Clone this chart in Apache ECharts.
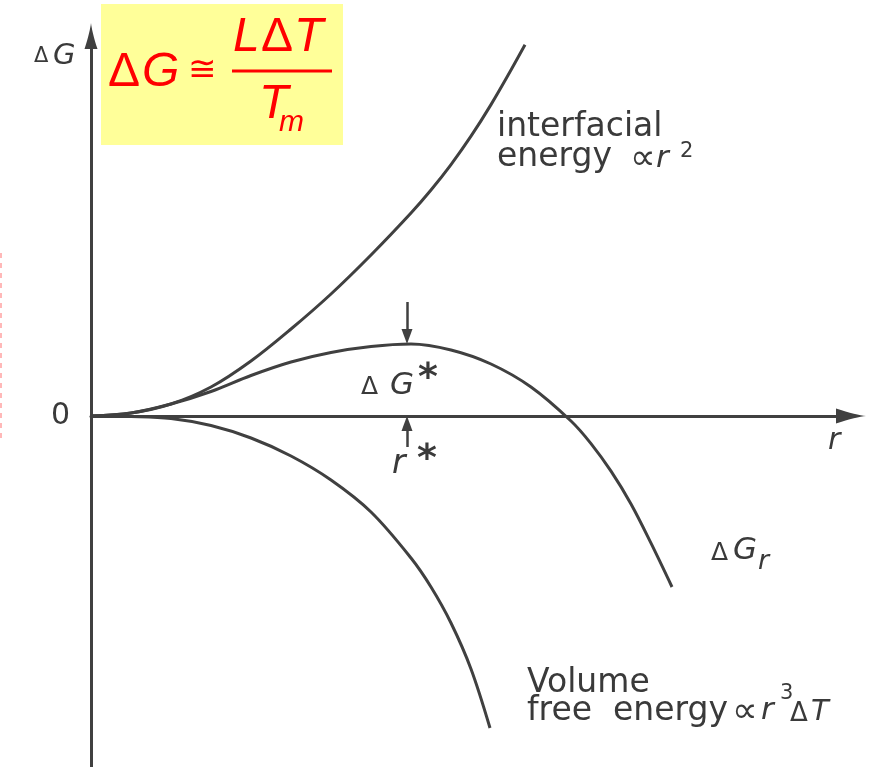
<!DOCTYPE html>
<html>
<head>
<meta charset="utf-8">
<script src="https://cdn.jsdelivr.net/npm/echarts@6/dist/echarts.min.js"></script>
<style>
  html, body { margin: 0; padding: 0; background: #ffffff; }
  #chart { width: 870px; height: 767px; }
</style>
</head>
<body>
<div id="chart"></div>
<script>
// Free energy of a spherical nucleus versus its radius r (arbitrary units)
const interfacialR = [0, 1, 2, 3, 4, 5, 6, 7, 8, 8.5, 9, 9.5, 10, 10.5, 10.85];
const interfacialG = [0, 0.075, 0.3, 0.725, 1.375, 2.175, 3.05, 4.025, 5.075, 5.65, 6.285, 6.995, 7.785, 8.65, 9.28];

const totalR = [0, 1, 2, 3, 4, 5, 6, 7, 8, 9, 10, 11, 12, 12.5, 13, 13.5, 14, 14.525];
const totalG = [0, 0.075, 0.3, 0.6125, 1.0125, 1.35, 1.5875, 1.7375, 1.8, 1.65, 1.3, 0.725, -0.125, -0.69, -1.38, -2.2, -3.18, -4.275];

const volumeR = [0, 1, 2, 3, 4, 5, 6, 7, 8, 8.5, 9, 9.5, 9.975];
const volumeG = [0, -0.0125, -0.0625, -0.2375, -0.55, -1.0, -1.6, -2.4, -3.55, -4.275, -5.175, -6.325, -7.8];

// Critical radius r* and barrier height ΔG*
const rStar = 7.9;
const gStar = 1.8;

const zip = (xs, ys) => xs.map((x, i) => [x, ys[i]]);

const INK = '#404040';
const LABEL_FONT = 'DejaVu Sans';
const MATH_FONT = 'Liberation Sans';
const arrowHead = 'path://M10,0 C11,8 14,22 20,40 L0,40 C6,22 9,8 10,0 Z';
const arrowHalf = 0.19; // half of an annotation arrow head, in ΔG units

function txt(x, y, text, size, extra) {
  const style = Object.assign({
    text: text,
    fontSize: size,
    fontFamily: LABEL_FONT,
    fill: '#3a3a3a',
    align: 'left', textAlign: 'left',
    verticalAlign: 'middle', textVerticalAlign: 'middle'
  }, extra || {});
  return { type: 'text', x: x, y: y, silent: true, z: 10, style: style };
}
const it = { fontStyle: 'italic' };
const star = { fontWeight: 'bold' };
const red = (o) => Object.assign({ fill: '#ff0000', fontFamily: MATH_FONT }, o || {});

const chart = echarts.init(document.getElementById('chart'), null, { renderer: 'canvas' });

const curveStyle = { color: INK, width: 3 };

chart.setOption({
  animation: false,
  backgroundColor: '#ffffff',
  grid: { left: 91, right: 19, top: 36, bottom: -9, outerBoundsMode: 'none', containLabel: false },
  xAxis: {
    type: 'value', min: 0, max: 19,
    axisLine: {
      onZero: true,
      lineStyle: { color: INK, width: 3 },
      symbol: ['none', arrowHead],
      symbolSize: [15, 38]
    },
    axisTick: { show: false },
    axisLabel: { show: false },
    splitLine: { show: false }
  },
  yAxis: {
    type: 'value', min: -9, max: 9.5, interval: 9,
    axisLine: {
      show: true,
      lineStyle: { color: INK, width: 3 },
      symbol: ['none', arrowHead],
      symbolSize: [13, 35]
    },
    axisTick: { show: false },
    axisLabel: {
      show: true,
      margin: 21,
      fontSize: 30,
      fontFamily: LABEL_FONT,
      color: '#3a3a3a',
      formatter: (v) => (v === 0 ? '0' : '')
    },
    splitLine: { show: false }
  },
  series: [
    {
      name: 'interfacial', type: 'line', data: zip(interfacialR, interfacialG),
      smooth: 0.35, showSymbol: false, silent: true,
      lineStyle: curveStyle
    },
    {
      name: 'ΔGr', type: 'line', data: zip(totalR, totalG),
      smooth: 0.35, showSymbol: false, silent: true,
      lineStyle: curveStyle,
      markLine: {
        silent: true,
        symbol: ['none', 'triangle'],
        symbolSize: [11, 15],
        label: { show: false },
        lineStyle: { color: INK, width: 2.5, type: 'solid' },
        emphasis: { disabled: true },
        data: [
          [{ coord: [rStar, gStar + 1.05] }, { coord: [rStar, gStar + arrowHalf] }],
          [{ coord: [rStar, -0.775] }, { coord: [rStar, -arrowHalf] }]
        ]
      }
    },
    {
      name: 'volume', type: 'line', data: zip(volumeR, volumeG),
      smooth: 0.35, showSymbol: false, silent: true,
      lineStyle: curveStyle
    }
  ],
  graphic: [
    // faint dashed margin line
    { type: 'line', silent: true, shape: { x1: 1, y1: 253, x2: 1, y2: 440 },
      style: { stroke: '#ffb8b8', lineWidth: 2, lineDash: [5, 5] } },

    // formula box
    { type: 'rect', silent: true, z: 5, shape: { x: 101, y: 4, width: 242, height: 141 },
      style: { fill: '#ffff99' } },
    txt(108, 73, 'Δ', 48, red()),
    txt(142, 73, 'G', 48, red(it)),
    txt(188, 71, '≅', 34, red({ fontFamily: LABEL_FONT })),
    txt(233, 38, 'L', 48, red(it)),
    txt(261, 38, 'Δ', 48, red()),
    txt(294, 38, 'T', 48, red(it)),
    { type: 'line', silent: true, z: 10, shape: { x1: 232, y1: 71, x2: 332, y2: 71 },
      style: { stroke: '#ff0000', lineWidth: 3 } },
    txt(259, 105, 'T', 48, red(it)),
    txt(279, 123, 'm', 30, red(it)),

    // axis names
    txt(34, 57, 'Δ', 21),
    txt(53, 56, 'G', 29, it),
    txt(828, 441, 'r', 30, it),

    // curve labels
    txt(497, 127, 'interfacial', 33),
    txt(497, 157, 'energy', 33),
    txt(630, 160, '∝', 36),
    txt(656, 159, 'r', 31, it),
    txt(680, 152, '2', 21),

    txt(361, 387, 'Δ', 25),
    txt(390, 386, 'G', 31, it),
    txt(418, 379, '*', 38, star),

    txt(392, 464, 'r', 33, it),
    txt(417, 460, '*', 38, star),

    txt(711, 553, 'Δ', 25),
    txt(733, 551, 'G', 31, it),
    txt(758, 562, 'r', 27, it),

    txt(527, 683, 'Volume', 33),
    txt(527, 711, 'free  energy', 33),
    txt(732, 713, '∝', 36),
    txt(761, 711, 'r', 31, it),
    txt(780, 694, '3', 21),
    txt(790, 714, 'Δ', 26),
    txt(811, 712, 'T', 29, it)
  ]
});
</script>
</body>
</html>
